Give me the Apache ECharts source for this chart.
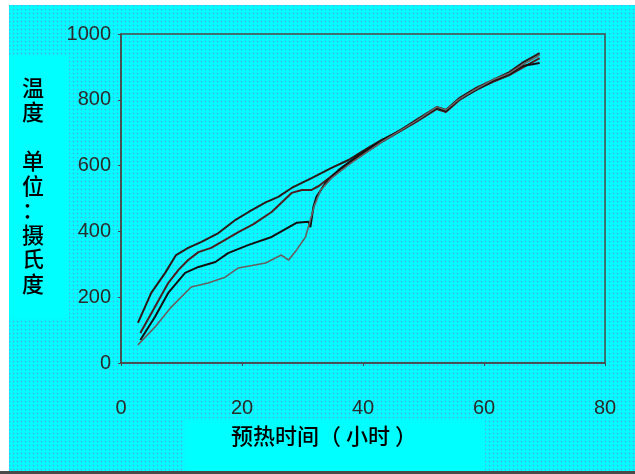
<!DOCTYPE html>
<html lang="zh">
<head>
<meta charset="utf-8">
<title>预热时间与温度</title>
<script src="https://cdn.jsdelivr.net/npm/echarts@6/dist/echarts.min.js"></script>
<style>
  html, body { margin: 0; padding: 0; background: #fff; }
  #main { width: 635px; height: 474px; }
</style>
</head>
<body>
<div id="main"></div>
<script>
// 四条预热曲线：横坐标为小时，纵坐标为摄氏度
var hoursA = [2.8, 5.0, 7.3, 9.1, 11.1, 13.3, 16.1, 19.0, 21.1, 23.9, 26.0, 28.2, 31.5, 34.8, 37.6, 40.5, 43.1, 46.0, 48.8, 52.2, 53.7, 55.9, 58.7, 61.4, 64.2, 66.3, 69.2];
var tempsA = [122, 213, 274, 328, 350, 368, 395, 436, 459, 488, 505, 532, 562, 593, 617, 650, 678, 705, 739, 778, 769, 805, 836, 860, 884, 912, 942];

var hoursB = [3.2, 5.6, 7.8, 9.5, 11.1, 12.8, 14.9, 17.2, 19.4, 21.9, 24.9, 28.2, 29.9, 31.5, 32.7, 35.5, 38.5, 43.1, 48.8, 52.2, 53.7, 55.9, 58.7, 61.4, 64.2, 66.3, 69.2];
var tempsB = [91, 170, 243, 283, 313, 337, 350, 374, 398, 422, 459, 517, 526, 526, 538, 578, 617, 672, 733, 772, 763, 799, 830, 854, 875, 897, 927];

var hoursC = [3.2, 5.6, 7.8, 10.6, 12.8, 15.6, 17.7, 21.1, 24.9, 29.0, 31.0, 31.3, 31.8, 32.3, 33.8, 36.0, 39.3, 43.1, 48.8, 52.2, 53.7, 55.9, 58.7, 61.4, 64.2, 66.3, 69.2];
var tempsC = [70, 140, 213, 274, 292, 307, 334, 359, 383, 426, 429, 413, 474, 505, 547, 587, 632, 675, 736, 775, 766, 802, 830, 857, 878, 903, 912];

var hoursD = [2.8, 5.6, 8.3, 11.6, 14.4, 17.2, 19.4, 23.9, 26.5, 27.7, 29.0, 30.5, 31.3, 32.0, 33.0, 34.8, 37.6, 43.1, 48.8, 52.2, 53.7, 55.9, 58.7, 61.4, 64.2, 66.3, 69.2];
var tempsD = [55, 109, 170, 231, 243, 261, 289, 304, 328, 313, 343, 383, 435, 480, 526, 562, 602, 672, 736, 778, 769, 802, 833, 860, 881, 906, 936];

var xTicks = [0, 20, 40, 60, 80];
var yTicks = [0, 200, 400, 600, 800, 1000];

function zip(xs, ys) {
  var out = [];
  for (var i = 0; i < xs.length; i++) out.push([xs[i], ys[i]]);
  return out;
}

// 青色网点底纹
var dots = document.createElement('canvas');
dots.width = 4; dots.height = 4;
var g = dots.getContext('2d');
g.fillStyle = '#00ffff';
g.fillRect(0, 0, 4, 4);
g.fillStyle = '#3ab8ea';
g.fillRect(1, 1, 1, 1);
g.fillStyle = '#1ee0f6';
g.fillRect(0, 1, 1, 1);
g.fillRect(1, 0, 1, 1);
g.fillRect(2, 1, 1, 1);
g.fillRect(1, 2, 1, 1);

var myChart = echarts.init(document.getElementById('main'));

var lineStyles = [
  { color: '#2b1717', width: 2 },
  { color: '#4a1f1f', width: 2 },
  { color: '#101010', width: 2 },
  { color: '#666060', width: 1.6 }
];
var allData = [zip(hoursA, tempsA), zip(hoursB, tempsB), zip(hoursC, tempsC), zip(hoursD, tempsD)];

var option = {
  animation: false,
  backgroundColor: { image: dots, repeat: 'repeat' },
  grid: { left: 121, right: 30, top: 34, bottom: 111, show: true, borderColor: '#4a4a4a', borderWidth: 1.5, backgroundColor: 'transparent' },
  xAxis: {
    type: 'value', min: xTicks[0], max: xTicks[xTicks.length - 1], interval: 20,
    axisLine: { show: true, lineStyle: { color: '#4a4a4a', width: 1.5 } },
    axisTick: { show: true, length: 3, lineStyle: { color: '#4a4a4a' } },
    splitLine: { show: false },
    axisLabel: { margin: 35, fontFamily: 'Liberation Sans', fontSize: 20, color: '#2a2a2a', formatter: '{value}' }
  },
  yAxis: {
    type: 'value', min: yTicks[0], max: yTicks[yTicks.length - 1], interval: 200,
    axisLine: { show: true, lineStyle: { color: '#4a4a4a', width: 1.5 } },
    axisTick: { show: true, length: 3, lineStyle: { color: '#4a4a4a' } },
    splitLine: { show: false },
    axisLabel: { margin: 10, fontFamily: 'Liberation Sans', fontSize: 20, color: '#2a2a2a', formatter: function (v) { return String(v); } }
  },
  graphic: [
    { type: 'rect', shape: { x: 0, y: 0, width: 635, height: 5 }, style: { fill: '#ffffff' }, silent: true },
    { type: 'rect', shape: { x: 0, y: 0, width: 9, height: 474 }, style: { fill: '#ffffff' }, silent: true },
    { type: 'rect', shape: { x: 0, y: 471, width: 635, height: 3 }, style: { fill: '#4a4a4a' }, silent: true },
    { type: 'rect', shape: { x: 9, y: 55, width: 60, height: 263 }, style: { fill: '#00ffff' }, silent: true },
    { type: 'rect', shape: { x: 185, y: 420, width: 300, height: 51 }, style: { fill: '#00ffff' }, silent: true },
    {
      type: 'text', left: 22, top: 75, silent: true,
      style: {
        text: '温\n度\n\n单\n位\n：\n摄\n氏\n度',
        fontFamily: 'Noto Sans CJK SC', fontSize: 22, fontWeight: 500, lineHeight: 24.5,
        fill: '#000', textAlign: 'left'
      }
    },
    {
      type: 'text', left: 231, top: 425, silent: true,
      style: {
        text: '预热时间（ 小时 ）',
        fontFamily: 'Noto Sans CJK SC', fontSize: 22, fontWeight: 500, fill: '#000'
      }
    }
  ],
  series: allData.map(function (d, i) {
    return {
      name: '曲线' + (i + 1), type: 'line', data: d,
      showSymbol: false, smooth: false,
      lineStyle: lineStyles[i]
    };
  })
};
myChart.setOption(option);
</script>
</body>
</html>
